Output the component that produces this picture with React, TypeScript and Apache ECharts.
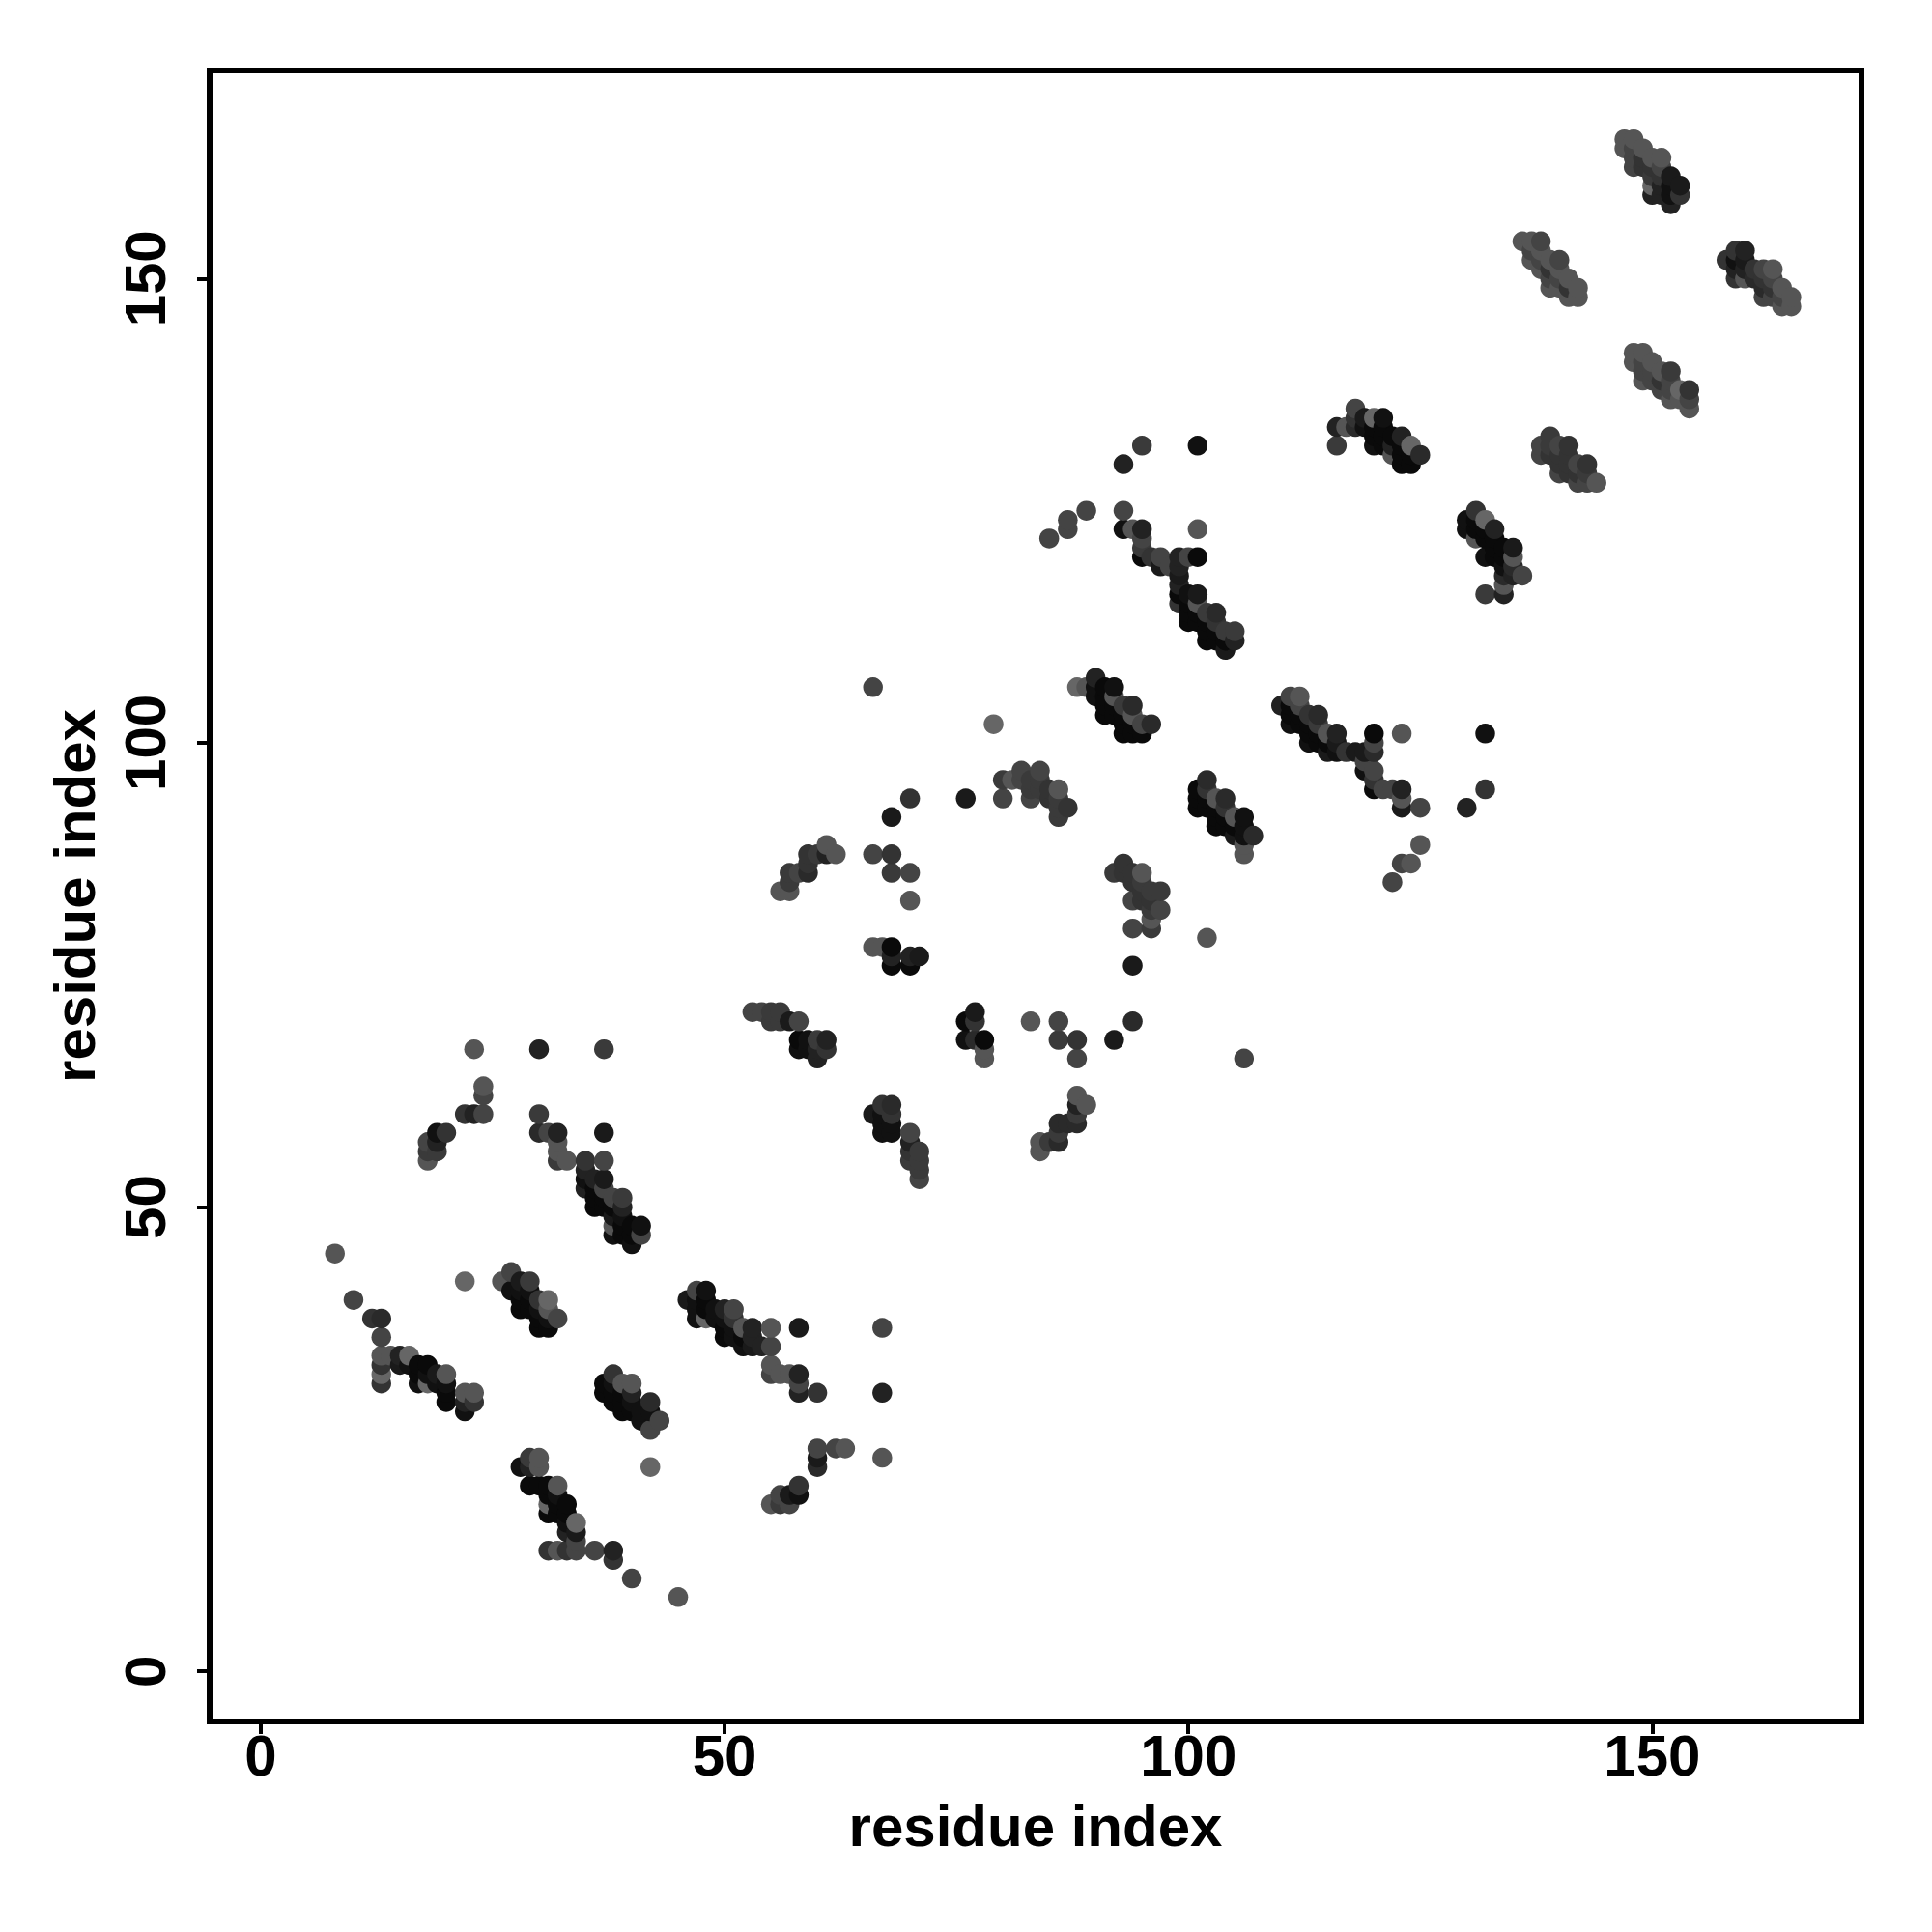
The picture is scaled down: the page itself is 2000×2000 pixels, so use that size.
import React, { useEffect, useRef } from "react";
import * as echarts from "echarts";

type P = [number, number, number];

const tickValues = [0, 50, 100, 150];
const axisTitle = "residue index";

const lowerLeft: P[] = [
  [8,45,85],[10,40,68],[12,38,51],[13,38,42],[13,36,68],[13,34,85],[13,33,51],[13,32,102],[13,31,51],[14,34,85],
  [15,34,34],[15,33,26],[16,34,102],[16,33,17],[17,33,10],[17,32,10],[17,31,17],[18,33,10],[18,32,17],[18,31,102],
  [19,32,26],[19,31,17],[20,32,85],[20,31,17],[20,30,10],[20,29,10],[22,42,102],[22,30,85],[22,29,34],[22,28,17],
  [23,30,85],[23,29,51],
];
const clusterA: P[] = [
  [26,42,85],[27,43,68],[27,41,17],[28,42,26],[28,41,17],[28,40,10],[28,39,10],[29,42,58],[29,41,17],[29,40,10],[29,39,10],
  [30,40,51],[30,39,17],[30,38,10],[30,37,10],[31,40,102],[31,39,85],[31,38,17],[31,37,10],[32,38,68],
];
const clusterB: P[] = [
  [37,31,10],[37,30,10],[38,32,51],[38,31,17],[38,30,10],[38,29,10],[39,31,85],[39,30,10],[39,29,10],[39,28,10],
  [40,31,85],[40,30,34],[40,29,17],[40,28,10],[41,28,17],[41,27,17],[42,29,42],[42,28,17],[42,26,68],[42,22,102],[43,27,68],
];
const clusterC: P[] = [
  [28,22,17],[29,23,58],[29,22,34],[29,20,10],[30,23,85],[30,22,85],[30,20,10],[31,20,10],[31,19,10],[31,18,102],[31,17,10],
  [32,20,85],[32,19,17],[32,18,10],[32,17,10],[33,18,10],[33,17,10],[33,16,17],[33,15,34],[34,16,102],[34,15,26],[34,14,68],
  [31,13,51],[32,13,85],[33,13,51],[34,13,68],[36,13,68],[38,13,34],[38,12,51],[40,10,68],[45,8,85],
];
const clusterD: P[] = [
  [46,40,26],[47,41,68],[47,40,17],[47,39,17],[47,38,17],[48,41,17],[48,40,10],[48,39,10],[48,38,102],[49,39,17],[49,38,17],
  [50,39,34],[50,38,17],[50,37,10],[50,36,10],[51,39,68],[51,38,51],[51,37,17],[51,36,17],[52,37,85],[52,36,10],[52,35,17],
  [53,37,34],[53,36,34],[53,35,26],[54,35,34],[55,37,85],[55,35,68],[58,37,26],[67,37,68],
  [55,33,85],[55,32,68],[56,32,85],[57,32,85],[58,32,34],[58,31,68],[58,30,34],[60,30,51],[67,30,34],
  [60,24,68],[60,23,26],[60,22,42],[62,24,68],[63,24,85],[67,23,85],
  [55,18,85],[56,19,68],[56,18,58],[57,19,26],[57,18,68],[58,20,51],[58,19,17],
];
const clusterE: P[] = [
  [23,67,85],[30,67,34],[37,67,58],[24,63,85],[24,62,68],[22,60,51],[23,60,34],[24,60,68],[30,60,58],[30,58,42],[31,58,68],[32,58,34],[37,58,26],
  [18,57,68],[18,56,58],[18,55,85],[19,58,17],[19,57,34],[19,56,58],[20,58,51],[32,57,85],[32,56,85],[32,55,58],[33,55,85],
];
const clusterF: P[] = [
  [35,55,51],[35,54,34],[35,53,17],[35,52,34],[36,53,34],[36,52,10],[36,51,10],[36,50,10],[37,55,68],[37,53,26],[37,52,68],[37,51,10],[37,50,10],
  [38,51,68],[38,50,10],[38,49,26],[38,48,85],[38,47,17],[39,51,58],[39,50,34],[39,49,17],[39,48,10],[39,47,10],[40,48,10],[40,47,10],[40,46,17],[41,48,17],[41,47,68],
];
const centerLeft: P[] = [
  [53,71,68],[54,71,68],[55,71,58],[55,70,58],[56,71,58],[56,70,58],[57,70,26],[58,70,68],[58,68,10],[58,67,17],[59,68,17],[59,67,17],
  [60,68,58],[60,67,34],[60,66,34],[61,68,34],[61,67,51],
  [56,84,85],[57,86,58],[57,85,58],[57,84,85],[58,86,68],[59,88,51],[59,87,51],[59,86,42],[60,88,58],[61,89,85],[61,88,34],[62,88,85],
  [66,106,68],[66,88,68],[68,88,51],[68,86,58],[70,86,68],[70,83,85],[68,92,26],[70,94,51],[76,94,26],
  [66,78,85],[67,78,85],[68,78,10],[68,77,34],[68,76,10],[70,77,34],[70,76,10],[71,77,26],
  [66,60,26],[67,61,51],[67,60,17],[67,59,17],[67,58,17],[68,61,42],[68,60,51],[68,59,17],[68,58,17],
  [70,58,68],[70,57,34],[70,56,51],[70,55,58],[71,56,58],[71,55,58],[71,54,58],[71,53,68],
];
const centerMiddle: P[] = [
  [76,70,10],[76,68,17],[77,71,26],[77,70,51],[77,68,42],[78,68,10],[78,67,85],[78,66,85],
  [83,70,85],[86,70,68],[94,70,42],[86,68,58],[88,68,51],[92,68,26],[88,66,68],[106,66,68],[102,79,85],
  [84,57,85],[84,56,85],[85,57,58],[86,59,42],[86,58,58],[86,57,42],[87,59,42],[88,62,85],[88,61,34],[88,60,58],[88,59,42],[89,61,85],
  [79,102,102],[80,96,58],[80,94,68],[81,96,85],[82,97,68],[82,96,68],[83,96,58],[83,95,58],[83,94,68],[84,97,68],[84,96,58],[84,95,58],
  [85,95,51],[85,94,51],[86,95,85],[86,94,58],[86,93,58],[86,92,58],[87,93,51],
];
const clusterG: P[] = [
  [88,106,102],[89,106,85],[90,107,34],[90,106,17],[90,105,17],[91,106,10],[91,105,10],[91,104,10],[91,103,10],[92,106,17],[92,105,85],[92,104,10],[92,103,10],
  [93,104,58],[93,103,10],[93,102,10],[93,101,10],[94,104,42],[94,103,85],[94,102,10],[94,101,10],[95,102,68],[95,101,10],[96,102,42],
];
const clusterH: P[] = [
  [92,86,58],[93,87,51],[93,86,51],[94,86,51],[94,85,51],[94,83,68],[94,80,68],[94,76,26],[95,86,85],[95,85,58],[95,84,51],[95,83,51],
  [96,84,58],[96,83,51],[96,82,58],[96,81,85],[96,80,58],[97,84,58],[97,82,68],
];
const clusterI: P[] = [
  [101,95,10],[101,94,10],[101,93,10],[102,96,42],[102,95,51],[102,94,10],[102,93,10],[103,94,85],[103,93,10],[103,92,10],[103,91,10],
  [104,94,42],[104,93,51],[104,92,10],[104,91,10],[105,92,85],[105,91,10],[105,90,26],[106,92,17],[106,91,17],[106,90,17],[106,89,85],[106,88,85],[107,90,42],
];
const clusterJ: P[] = [
  [95,132,58],[93,130,34],[101,132,17],[93,125,68],[89,125,68],[87,124,68],[87,123,68],[85,122,68],[101,123,85],
  [93,123,17],[94,123,85],[95,123,34],[95,122,68],[95,121,58],[95,120,10],[96,120,51],[97,120,68],[97,119,26],[98,119,68],
  [99,120,34],[99,119,34],[99,118,26],[99,117,34],[99,116,10],[99,115,51],[100,120,68],[100,116,17],[100,115,10],[100,114,10],[100,113,10],
  [101,120,10],[101,116,26],[101,115,85],[101,114,10],[101,113,10],[102,114,58],[102,113,10],[102,112,10],[102,111,10],
  [103,114,42],[103,113,51],[103,112,10],[103,111,10],[104,112,58],[104,111,10],[104,110,26],[105,112,58],[105,111,34],
];
const clusterK: P[] = [
  [110,104,34],[111,105,68],[111,104,10],[111,103,10],[111,102,17],[112,105,85],[112,104,68],[112,103,10],[112,102,10],
  [113,103,51],[113,102,10],[113,101,10],[113,100,17],[114,103,42],[114,102,58],[114,101,10],[114,100,10],
  [115,101,85],[115,100,10],[115,99,26],[116,101,34],[116,100,26],[116,99,17],[117,99,51],[118,99,26],[119,99,26],[119,98,68],[119,97,17],
  [120,101,10],[120,100,68],[120,99,42],[120,97,68],[120,96,51],[120,95,10],[121,95,68],[122,95,68],[123,95,34],[123,94,85],[123,93,26],[125,93,68],
  [123,101,85],[132,101,17],[132,95,51],[130,93,34],[125,89,85],[123,87,68],[124,87,85],[122,85,68],
];
const clusterL: P[] = [
  [116,134,34],[116,132,58],[117,134,85],[118,136,68],[118,135,51],[118,134,42],[119,135,26],[119,134,17],
  [120,135,102],[120,134,10],[120,133,10],[120,132,17],[121,135,17],[121,134,10],[121,133,10],[121,132,10],
  [122,133,10],[122,132,34],[122,131,85],[123,133,34],[123,132,10],[123,131,10],[123,130,10],[124,132,102],[124,131,10],[124,130,10],[125,131,42],
];
const clusterM: P[] = [
  [130,124,17],[130,123,17],[131,125,51],[131,124,10],[131,123,10],[131,122,85],[132,124,102],[132,123,10],[132,122,10],[132,120,17],[132,116,58],
  [133,123,34],[133,122,10],[133,121,10],[133,120,10],[134,121,10],[134,120,10],[134,119,17],[134,118,42],[134,117,85],[134,116,34],
  [135,121,26],[135,120,85],[135,119,42],[135,118,34],[136,118,68],
];
const clusterN: P[] = [
  [138,132,68],[138,131,68],[139,133,58],[139,132,58],[139,131,51],[140,132,68],[140,131,51],[140,130,51],[140,129,68],
  [141,132,51],[141,131,51],[141,130,51],[141,129,51],[142,130,68],[142,129,51],[142,128,68],[143,130,51],[143,129,58],[143,128,68],[144,128,85],
];
const clusterO: P[] = [
  [147,165,85],[147,164,85],[148,165,85],[148,164,68],[148,163,68],[148,162,68],[149,164,85],[149,163,51],[149,162,51],
  [150,163,85],[150,162,51],[150,161,58],[150,160,102],[150,159,34],[151,163,85],[151,162,68],[151,161,51],[151,160,34],[151,159,34],
  [152,161,26],[152,160,17],[152,159,17],[152,158,34],[153,160,26],[153,159,51],
];
const clusterP: P[] = [
  [136,154,85],[137,154,85],[137,153,68],[137,152,85],[138,154,68],[138,153,85],[138,152,68],[138,151,85],[139,152,85],[139,151,51],[139,150,68],[139,149,85],
  [140,152,68],[140,151,85],[140,150,68],[140,149,85],[141,150,85],[141,149,51],[141,148,85],[142,149,85],[142,148,85],
];
const clusterQ: P[] = [
  [158,152,51],[159,153,51],[159,152,17],[159,151,34],[159,150,51],[160,153,34],[160,152,26],[160,151,34],[160,150,85],
  [161,151,51],[161,150,42],[162,151,68],[162,150,51],[162,149,42],[162,148,68],[163,151,85],[163,150,68],[163,149,51],[163,148,68],
  [164,149,85],[164,148,68],[164,147,85],[165,148,85],[165,147,85],
];
const clusterR: P[] = [
  [148,142,85],[148,141,85],[149,142,85],[149,141,68],[149,140,68],[149,139,85],[150,141,85],[150,140,68],[150,139,68],
  [151,140,85],[151,139,51],[151,138,68],[152,140,58],[152,139,68],[152,138,68],[152,137,85],[153,138,102],[153,137,85],[154,138,51],[154,137,68],[154,136,85],
];

const allPoints: P[] = [
  ...lowerLeft, ...clusterA, ...clusterB, ...clusterC, ...clusterD, ...clusterE, ...clusterF,
  ...centerLeft, ...centerMiddle, ...clusterG, ...clusterH, ...clusterI, ...clusterJ, ...clusterK,
  ...clusterL, ...clusterM, ...clusterN, ...clusterO, ...clusterP, ...clusterQ, ...clusterR,
].sort((a, b) => a[0] - b[0] || a[1] - b[1]);

const font = "Liberation Sans";

export default function App() {
  const ref = useRef<HTMLDivElement>(null);
  useEffect(() => {
    document.body.style.margin = "0";
    const chart = echarts.init(ref.current!, undefined, { renderer: "svg" });
    const axisCommon = {
      type: "value" as const,
      name: axisTitle,
      nameLocation: "middle" as const,
      nameTextStyle: { fontFamily: font, fontWeight: "bold" as const, fontSize: 60, color: "#000" },
      splitLine: { show: false },
      axisLine: { show: false, onZero: false },
      axisTick: { show: true, length: 13, lineStyle: { color: "#000", width: 4 }, customValues: tickValues },
    };
    chart.setOption({
      animation: false,
      backgroundColor: "#fff",
      grid: { left: 217, top: 73, width: 1710, height: 1709, show: true, borderColor: "#000", borderWidth: 6, backgroundColor: "transparent" },
      xAxis: {
        ...axisCommon,
        min: -5.51,
        max: 172.56,
        nameGap: 78,
        axisLabel: { customValues: tickValues, fontFamily: font, fontWeight: "bold", fontSize: 60, color: "#000", margin: 5 },
      },
      yAxis: {
        ...axisCommon,
        min: -5.39,
        max: 172.4,
        nameGap: 110,
        axisLabel: { customValues: tickValues, rotate: 90, fontFamily: font, fontWeight: "bold", fontSize: 60, color: "#000", margin: 37 },
      },
      series: [
        {
          type: "scatter",
          symbol: "circle",
          symbolSize: 20.5,
          data: allPoints.map(([x, y, g]) => ({
            value: [x, y],
            itemStyle: { color: `rgb(${g},${g},${g})`, opacity: 1 },
          })),
        },
      ],
    });
    return () => chart.dispose();
  }, []);
  return <div ref={ref} style={{ width: 2000, height: 2000, position: "absolute", left: 0, top: 0 }} />;
}
